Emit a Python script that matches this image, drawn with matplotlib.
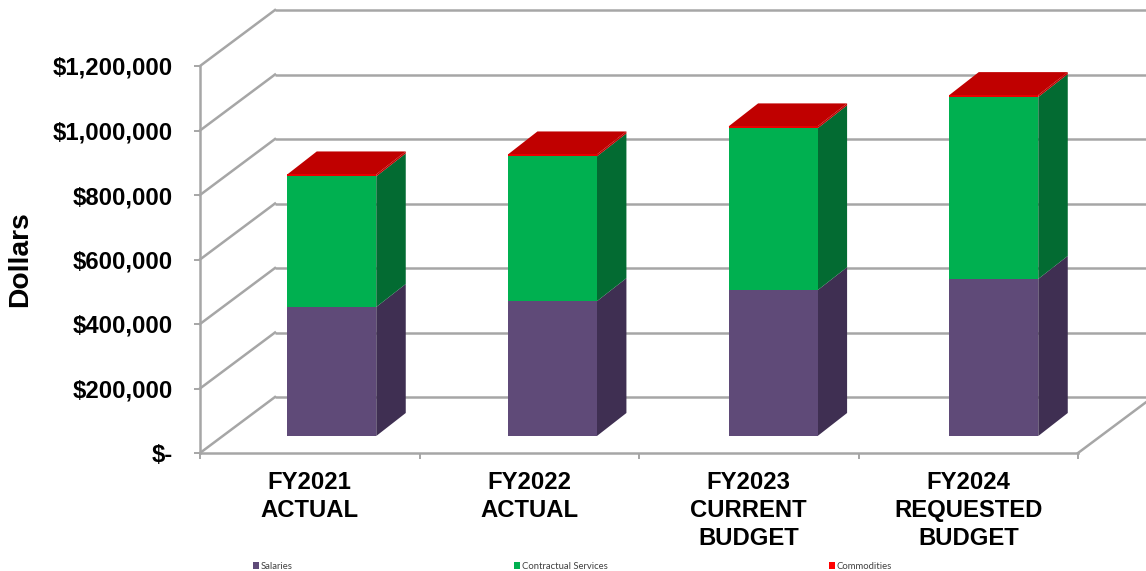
import matplotlib
matplotlib.use("Agg")
import matplotlib.pyplot as plt
from matplotlib.patches import Polygon
import numpy as np

categories = ["FY2021\nACTUAL", "FY2022\nACTUAL", "FY2023\nCURRENT\nBUDGET", "FY2024\nREQUESTED\nBUDGET"]
salaries = [400000, 418000, 452000, 487000]
contractual = [405000, 449000, 502000, 564000]
commodities = [6000, 6000, 6000, 6000]
y_ticks = [0, 200000, 400000, 600000, 800000, 1000000, 1200000]
y_labels = ["$-", "$200,000", "$400,000", "$600,000", "$800,000", "$1,000,000", "$1,200,000"]

W, H = 1146, 571
fig = plt.figure(figsize=(W / 100, H / 100), dpi=100, facecolor="white")
plt.rcParams["font.family"] = ["Liberation Sans", "DejaVu Sans"]
ax = fig.add_axes([200 / W, (H - 453) / H, 878 / W, 387 / H])
ax.set_xlim(0, 4)
ax.set_ylim(0, 1200000)
ax.patch.set_alpha(0)

px_x = 4 / 878
px_y = 1200000 / 387
wall_dx, wall_dy = 75 * px_x, 56 * px_y
bar_lift_x, bar_lift_y = 22 * px_x, 17 * px_y
bar_dx, bar_dy = 29.5 * px_x, 23 * px_y
bar_w = 89 * px_x
bar_step = 220.67 * px_x

grid = "#A6A6A6"
grid_lw = 1.8
for v in y_ticks:
    ax.plot([wall_dx, 4 + wall_dx], [v + wall_dy, v + wall_dy], color=grid, lw=grid_lw,
            clip_on=False, zorder=1, solid_capstyle="butt")
    ax.plot([0, wall_dx], [v, v + wall_dy], color=grid, lw=grid_lw, clip_on=False, zorder=1)
ax.plot([4, 4 + wall_dx], [0, wall_dy], color=grid, lw=grid_lw, clip_on=False, zorder=1)

series = [
    ("Salaries", salaries, "#5F4A78", "#3F2F52", "#5F4A78"),
    ("Contractual Services", contractual, "#00B050", "#036B32", "#00B050"),
    ("Commodities", commodities, "#E80000", "#C00000", "#FF0000"),
]
xc = 0.5 + bar_lift_x + np.arange(4) * bar_step
bottom = np.full(4, bar_lift_y)
handles = []
for name, vals, front, side, leg in series:
    vals = np.array(vals, dtype=float)
    bars = ax.bar(xc, vals, bar_w, bottom=bottom, color=front, label=name, zorder=4,
                  clip_on=False, linewidth=0)
    for x, b, h in zip(xc, bottom, vals):
        r = x + bar_w / 2
        l = x - bar_w / 2
        ax.add_patch(Polygon([(r, b), (r + bar_dx, b + bar_dy), (r + bar_dx, b + h + bar_dy), (r, b + h)],
                             closed=True, facecolor=side, edgecolor="none", zorder=3, clip_on=False))
        if name == "Commodities":
            t = b + h
            ax.add_patch(Polygon([(l, t), (r, t), (r + bar_dx, t + bar_dy), (l + bar_dx, t + bar_dy)],
                                 closed=True, facecolor="#C00000", edgecolor="none", zorder=3, clip_on=False))
    bottom = bottom + vals
    handles.append(bars)

for s in ["top", "right"]:
    ax.spines[s].set_visible(False)
for s in ["left", "bottom"]:
    ax.spines[s].set_color(grid)
    ax.spines[s].set_linewidth(grid_lw)
    ax.spines[s].set_zorder(2)

ax.set_yticks(y_ticks)
ax.set_yticklabels(y_labels, fontsize=17.2, fontweight="bold", color="black")
ax.tick_params(axis="y", length=4.5, width=1.4, color=grid, pad=15)
ax.set_xticks([0, 1, 2, 3, 4])
ax.set_xticklabels([])
ax.tick_params(axis="x", which="major", length=4.5, width=1.4, color=grid)
ax.set_xticks(np.arange(4) + 0.5, minor=True)
ax.set_xticklabels(categories, minor=True, fontsize=17.2, fontweight="bold", color="black",
                   linespacing=1.27, va="top")
ax.tick_params(axis="x", which="minor", length=0, pad=13)

fig.text(20 / W, (H - 259.5) / H, "Dollars", rotation=90, fontsize=20.3, fontweight="bold",
         ha="center", va="center", color="black")

leg = fig.legend(handles=handles, labels=[s[0] for s in series], ncols=3, loc="lower left",
                 bbox_to_anchor=(253 / W, 0 / H), frameon=False,
                 prop={"family": "Lato", "size": 6.8}, handlelength=0.65, handleheight=0.7,
                 handletextpad=0.2, columnspacing=23.4, borderpad=0, borderaxespad=0)
for t in leg.get_texts():
    t.set_color("#404040")
for h, s in zip(leg.legend_handles, series):
    h.set_facecolor(s[4])

fig.savefig("out.png", dpi=100)
